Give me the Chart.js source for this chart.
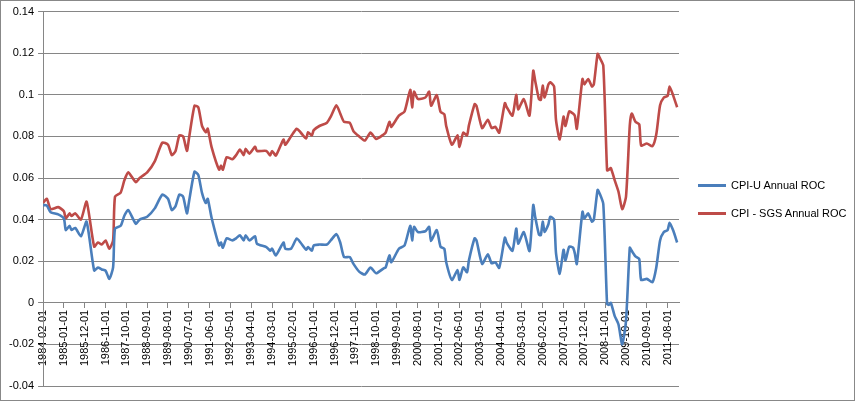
<!DOCTYPE html>
<html><head><meta charset="utf-8">
<script src="https://cdn.jsdelivr.net/npm/chart.js@4"></script>
<style>
body{margin:0;background:#fff;}
#wrap{position:relative;width:855px;height:401px;box-sizing:border-box;border:1px solid #888;}
canvas{position:absolute;left:0;top:0;}
.lg{position:absolute;left:697px;font:11px "Liberation Sans",Arial,sans-serif;color:#000;display:flex;align-items:center;}
.lg span{display:inline-block;width:28px;height:3px;margin-right:5px;}
</style></head>
<body><div id="wrap"><canvas id="c" width="853" height="399"></canvas>
<div class="lg" style="top:178px"><span style="background:#4A7EBB"></span>CPI-U Annual ROC</div>
<div class="lg" style="top:206px"><span style="background:#BE4B48"></span>CPI - SGS Annual ROC</div>
</div>
<script>
const months = [0,2,4,8,11,12,14,15,17,20,23,27,29,31,33,35,37,38,41,43,45,49,51,55,59,63,66,68,70,72,74,76,77,80,82,84,86,87,89,93,94,95,97,100,102,104,106,107,109,112,113,118,120,121,123,127,128,131,134,136,139,140,142,143,146,150,152,155,157,159,162,164,167,
170,173,176,180,181,183,184,188,191,194,195,196,198,202,204,205,208,210,212,213,216,219,220,222,224,225,228,229,232,235,237,239,241,244,245,248,250,251,254,257,259,260,262,263,264,265,267,268,270,271,273,275,276,278,280,281,282,285,286,288,290,291,293,294,296,298,299,300,302,304,306,308,310,311,313,315,316,319,322,324,326,328,330,331,333,335];
const cpiU = [0.047,0.0467,0.0435,0.0425,0.0405,0.035,0.037,0.035,0.036,0.032,0.039,0.0155,0.017,0.016,0.0155,0.0115,0.017,0.0357,0.037,0.042,0.0446,0.038,0.040,0.0414,0.0454,0.052,0.050,0.0446,0.0465,0.052,0.051,0.043,0.048,0.063,0.0615,0.0527,0.048,0.050,0.041,0.0276,0.029,0.0265,0.031,0.030,0.031,0.0325,0.030,0.0325,0.030,0.032,0.0284,0.0268,0.025,0.026,0.0228,0.029,0.026,0.026,0.0309,0.029,0.0255,0.0268,0.025,0.0276,0.028,0.028,0.030,0.033,0.029,0.022,0.022,0.0187,0.015,
0.0136,0.017,0.0142,0.0166,0.017,0.0228,0.0195,0.026,0.0276,0.037,0.030,0.0365,0.034,0.0344,0.0365,0.0297,0.035,0.027,0.026,0.0195,0.011,0.0158,0.011,0.017,0.0147,0.0204,0.031,0.030,0.0187,0.0233,0.019,0.0195,0.0168,0.0313,0.0288,0.025,0.0357,0.0284,0.034,0.0249,0.047,0.0414,0.0328,0.0325,0.039,0.034,0.0378,0.0414,0.040,0.024,0.0139,0.0255,0.0204,0.027,0.0265,0.0236,0.0187,0.0438,0.0405,0.043,0.039,0.040,0.0543,0.0527,0.0475,-0.0006,-0.001,0,-0.0063,-0.0103,-0.020,-0.0087,0.0265,0.025,0.0223,0.021,0.011,0.0115,0.0099,0.017,0.030,0.034,0.035,0.0385,0.0346,0.029];
const cpiSGS = [0.048,0.050,0.045,0.046,0.044,0.0405,0.043,0.0417,0.043,0.040,0.0486,0.027,0.029,0.028,0.030,0.026,0.030,0.051,0.053,0.059,0.0627,0.058,0.060,0.0627,0.068,0.077,0.076,0.071,0.073,0.0805,0.080,0.073,0.0785,0.0947,0.094,0.085,0.082,0.0837,0.075,0.064,0.066,0.064,0.070,0.069,0.071,0.0737,0.071,0.074,0.0717,0.075,0.073,0.073,0.0708,0.073,0.0708,0.0785,0.076,0.080,0.0837,0.082,0.079,0.082,0.0805,0.083,0.085,0.0866,0.0895,0.095,0.091,0.087,0.0866,0.0825,0.080,
0.078,0.0818,0.0788,0.081,0.0818,0.087,0.0846,0.090,0.092,0.1024,0.094,0.1015,0.098,0.0987,0.1015,0.0947,0.0998,0.0918,0.0906,0.085,0.076,0.0805,0.075,0.0818,0.0805,0.0853,0.0955,0.0947,0.084,0.088,0.084,0.0846,0.0818,0.096,0.094,0.090,0.100,0.093,0.0979,0.090,0.1116,0.1068,0.0979,0.0976,0.1044,0.0987,0.105,0.106,0.104,0.088,0.0785,0.0895,0.085,0.092,0.091,0.0898,0.0837,0.1076,0.105,0.1076,0.104,0.105,0.1197,0.118,0.114,0.0637,0.064,0.0648,0.059,0.0535,0.045,0.051,0.0853,0.091,0.087,0.0858,0.0756,0.0766,0.0753,0.081,0.095,0.0987,0.0995,0.104,0.0995,0.094];
const seriesNames = ["CPI-U Annual ROC","CPI - SGS Annual ROC"];
const yTicks = [-0.04,-0.02,0,0.02,0.04,0.06,0.08,0.1,0.12,0.14];

function mLabel(m){const y=1984+Math.floor((m+1)/12);const mo=((m+1)%12)+1;return y+"-"+String(mo).padStart(2,"0")+"-01";}
const pts = a => months.map((m,i)=>({x:m,y:a[i]}));
Chart.defaults.font.family='"Liberation Sans", Arial, sans-serif';
Chart.defaults.font.size=11;
Chart.defaults.color='#000';
new Chart(document.getElementById('c'),{
 type:'line',
 data:{datasets:[
  {label:seriesNames[0],data:pts(cpiU),borderColor:'#4A7EBB',borderWidth:2.6,pointRadius:0,tension:0.2},
  {label:seriesNames[1],data:pts(cpiSGS),borderColor:'#BE4B48',borderWidth:2.6,pointRadius:0,tension:0.2}
 ]},
 options:{responsive:false,animation:false,
  layout:{padding:{top:8,right:175,bottom:14,left:4}},
  plugins:{legend:{display:false},tooltip:{enabled:false}},
  scales:{
   x:{type:'linear',min:0,max:336,position:{y:0},
     afterBuildTicks:s=>{s.ticks=[];for(let m=0;m<=330;m+=11)s.ticks.push({value:m});},
     ticks:{autoSkip:false,maxRotation:90,minRotation:90,callback:v=>mLabel(v),padding:2},
     grid:{drawOnChartArea:false,drawTicks:true,tickLength:5,color:'#868686'},
     border:{color:'#868686'}},
   y:{min:-0.04,max:0.14,
     afterBuildTicks:s=>{s.ticks=yTicks.map(v=>({value:v}));},
     ticks:{callback:v=>String(Number(v.toFixed(2))),padding:4},
     grid:{color:'#868686',tickLength:5},
     border:{color:'#868686'}}
  }}
});
</script></body></html>
